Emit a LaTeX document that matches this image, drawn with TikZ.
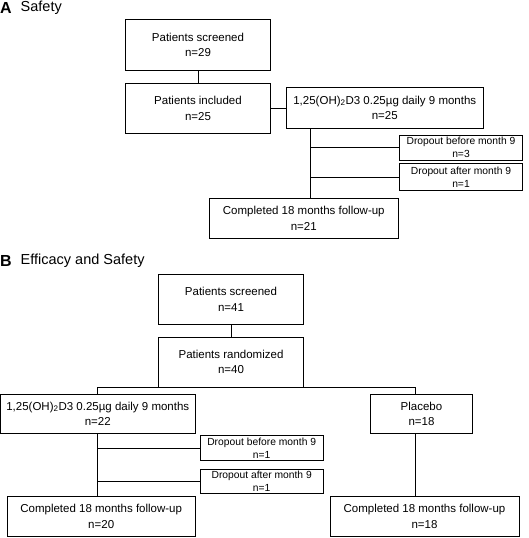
\documentclass[tikz,border=0pt]{standalone}
\usepackage{fontspec}
\setmainfont{Liberation Sans}
\begin{document}
\begin{tikzpicture}[x=1pt,y=-1pt,
  bx/.style={draw,line width=0.9pt,rectangle,inner sep=0pt,align=center,font=\fontsize{11.5}{15.5}\selectfont},
  sbx/.style={draw,line width=0.9pt,rectangle,inner sep=0pt,align=center,font=\fontsize{10.3}{13}\selectfont},
  ln/.style={line width=0.9pt},
  ttl/.style={anchor=west,inner sep=0pt,font=\fontsize{14.5}{16}\selectfont},
  lbl/.style={anchor=west,inner sep=0pt,font=\fontsize{16}{16}\selectfont\bfseries}]
\useasboundingbox (0,0) rectangle (528,538);
% Panel A
\node[lbl] (la) at (0,8) {A};
\node[ttl] (ta) at (20.5,8) {Safety};
\node[bx,minimum width=145.4pt,minimum height=51pt] (scrA) at (198,44.8) {Patients screened\\n=29};
\node[bx,minimum width=145.4pt,minimum height=50.3pt] (incA) at (198,108.2) {Patients included\\n=25};
\node[bx,minimum width=197.7pt,minimum height=40.3pt] (trtA) at (384.8,107.8) {1,25(OH)\textsubscript{2}D3 0.25µg daily 9 months\\n=25};
\node[sbx,minimum width=123.4pt,minimum height=25pt] (dbA) at (461,147.8) {Dropout before month 9\\n=3};
\node[sbx,minimum width=123.4pt,minimum height=27pt] (daA) at (461,177) {Dropout after month 9\\n=1};
\node[bx,minimum width=189pt,minimum height=40pt] (compA) at (303.8,218.3) {Completed 18 months follow-up\\n=21};
\draw[ln] (scrA.south) -- (incA.north);
\draw[ln] (incA.east) -- (incA.east -| trtA.west);
\coordinate (vA1) at (310.7,128);
\coordinate (vA2) at (310.7,198.3);
\draw[ln] (vA1 |- trtA.south) -- (vA2 |- compA.north);
\draw[ln] (vA1 |- dbA.west) -- (dbA.west);
\draw[ln] (vA1 |- daA.west) -- (daA.west);
% Panel B
\node[lbl] (lb) at (0,261) {B};
\node[ttl] (tb) at (20.5,261) {Efficacy and Safety};
\node[bx,minimum width=144.6pt,minimum height=50.4pt] (scrB) at (231,299.5) {Patients screened\\n=41};
\node[bx,minimum width=144.6pt,minimum height=50pt] (rndB) at (231,362) {Patients randomized\\n=40};
\node[bx,minimum width=194.3pt,minimum height=39.3pt] (trtB) at (97.8,413.7) {1,25(OH)\textsubscript{2}D3 0.25µg daily 9 months\\n=22};
\node[bx,minimum width=101.6pt,minimum height=39.3pt] (plcB) at (421.5,413.7) {Placebo\\n=18};
\node[sbx,minimum width=122.7pt,minimum height=24.6pt] (dbB) at (261.7,448) {Dropout before month 9\\n=1};
\node[sbx,minimum width=122.7pt,minimum height=24.3pt] (daB) at (261.7,481.2) {Dropout after month 9\\n=1};
\node[bx,minimum width=187.7pt,minimum height=40.7pt] (compBL) at (101.2,516.3) {Completed 18 months follow-up\\n=20};
\node[bx,minimum width=189pt,minimum height=40.7pt] (compBR) at (424.5,516.3) {Completed 18 months follow-up\\n=18};
\draw[ln] (scrB.south) -- (rndB.north);
\coordinate (bL) at (97,387);
\coordinate (bR) at (415,387);
\draw[ln] (bL |- trtB.north) -- (bL) -- (bR) -- (bR |- plcB.north);
\draw[ln] (bL |- trtB.south) -- (bL |- compBL.north);
\draw[ln] (bR |- plcB.south) -- (bR |- compBR.north);
\draw[ln] (bL |- dbB.west) -- (dbB.west);
\draw[ln] (bL |- daB.west) -- (daB.west);
\end{tikzpicture}
\end{document}
